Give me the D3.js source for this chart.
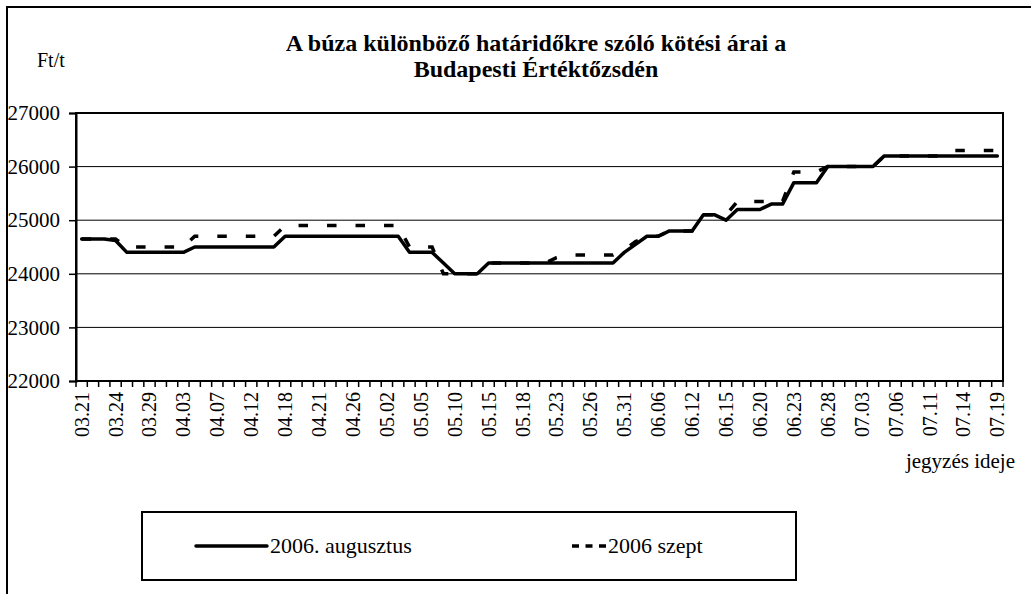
<!doctype html>
<html>
<head>
    <meta charset="utf8">
    <script src="https://d3js.org/d3.v7.min.js"></script>
    <style>
        body { margin: 0; background: #fff; }
        .grid { stroke: #000; stroke-width: 1; }
    </style>
</head>
<body>
<svg width="1031" height="594"></svg>
<script>

    // jegyzés napjai (82 kereskedési nap)
    var dates = ["03.21","03.22","03.23","03.24","03.27","03.28","03.29","03.30","03.31","04.03",
                 "04.05","04.06","04.07","04.10","04.11","04.12","04.13","04.14","04.18","04.19",
                 "04.20","04.21","04.24","04.25","04.26","04.27","04.28","05.02","05.03","05.04",
                 "05.05","05.08","05.09","05.10","05.11","05.12","05.15","05.16","05.17","05.18",
                 "05.19","05.22","05.23","05.24","05.25","05.26","05.29","05.30","05.31","06.01",
                 "06.02","06.06","06.07","06.09","06.12","06.13","06.14","06.15","06.16","06.19",
                 "06.20","06.21","06.22","06.23","06.26","06.27","06.28","06.29","06.30","07.03",
                 "07.04","07.05","07.06","07.07","07.10","07.11","07.12","07.13","07.14","07.17",
                 "07.18","07.19"];

    var tickLabels = ["03.21","03.24","03.29","04.03","04.07","04.12","04.18","04.21","04.26","05.02",
                      "05.05","05.10","05.15","05.18","05.23","05.26","05.31","06.06","06.12","06.15",
                      "06.20","06.23","06.28","07.03","07.06","07.11","07.14","07.19"];

    var yTicks = [22000, 23000, 24000, 25000, 26000, 27000];

    var augusztus = [24650,24650,24650,24620,24400,24400,24400,24400,24400,24400,
                     24500,24500,24500,24500,24500,24500,24500,24500,24700,24700,
                     24700,24700,24700,24700,24700,24700,24700,24700,24700,24400,
                     24400,24400,24200,24000,24000,24000,24200,24200,24200,24200,
                     24200,24200,24200,24200,24200,24200,24200,24200,24400,24550,
                     24700,24700,24800,24800,24800,25100,25100,25000,25200,25200,
                     25200,25300,25300,25700,25700,25700,26000,26000,26000,26000,
                     26000,26200,26200,26200,26200,26200,26200,26200,26200,26200,
                     26200,26200];

    var szept = [24650,24650,24650,24650,24500,24500,24500,24500,24500,24500,
                 24700,24700,24700,24700,24700,24700,24700,24700,24900,24900,
                 24900,24900,24900,24900,24900,24900,24900,24900,24900,24500,
                 24500,24500,24000,24000,24000,24000,24200,24200,24200,24200,
                 24200,24200,24300,24350,24350,24350,24350,24350,24450,24600,
                 24700,24700,24800,24800,24800,25100,25100,25100,25350,25350,
                 25350,25350,25350,25900,25900,25900,26000,26000,26000,26000,
                 26000,26200,26200,26200,26200,26200,26200,26300,26300,26300,
                 26300,26300];

    var seriesNames = ["2006. augusztus", "2006 szept"];

    // elérhető talpas betűtípus keresése
    function pickFont(list) {
        var c = document.createElement("canvas").getContext("2d");
        var probe = "mmmmmmmmmmlliiWW 0123456789 abcdefghij";
        c.font = "40px monospace";
        var b1 = c.measureText(probe).width;
        c.font = "40px sans-serif";
        var b2 = c.measureText(probe).width;
        for (var i = 0; i < list.length; i++) {
            c.font = "40px '" + list[i] + "', monospace";
            var w1 = c.measureText(probe).width;
            c.font = "40px '" + list[i] + "', sans-serif";
            var w2 = c.measureText(probe).width;
            if (w1 !== b1 && w2 !== b2) return list[i];
        }
        return "serif";
    }
    var serif = "'" + pickFont(["Liberation Serif", "Times New Roman", "Tinos", "DejaVu Serif",
                               "Noto Serif", "FreeSerif", "Nimbus Roman"]) + "', serif";

    var svg = d3.select("svg").attr("font-family", serif);

    var pLeft = 76, pRight = 1003, pTop = 113, pBottom = 381;

    var x = d3.scaleBand().domain(dates).range([pLeft, pRight]).padding(0);
    var y = d3.scaleLinear().domain([22000, 27000]).range([pBottom, pTop]);
    var cx = function(i) { return x(dates[i]) + x.bandwidth() / 2; };

    // külső keret
    svg.append("path")
       .attr("d", "M7,600 L7,7 L1040,7")
       .attr("fill", "none")
       .attr("stroke", "#000")
       .attr("stroke-width", 2);

    // cím
    svg.append("text")
       .attr("x", 536).attr("y", 51)
       .attr("text-anchor", "middle")
       .attr("font-size", "24px").attr("font-weight", "bold")
       .text("A búza különböző határidőkre szóló kötési árai a");
    svg.append("text")
       .attr("x", 536).attr("y", 77)
       .attr("text-anchor", "middle")
       .attr("font-size", "24px").attr("font-weight", "bold")
       .text("Budapesti Értéktőzsdén");

    svg.append("text")
       .attr("x", 37).attr("y", 67)
       .attr("font-size", "20px")
       .text("Ft/t");

    // rácsvonalak
    svg.append("g").selectAll("line")
       .data(yTicks.slice(1, -1))
       .enter().append("line")
       .attr("class", "grid")
       .attr("x1", pLeft).attr("x2", pRight)
       .attr("y1", function(d) { return y(d); })
       .attr("y2", function(d) { return y(d); });

    // rajzterület keret
    svg.append("rect")
       .attr("x", pLeft).attr("y", pTop)
       .attr("width", pRight - pLeft).attr("height", pBottom - pTop)
       .attr("fill", "none")
       .attr("stroke", "#000")
       .attr("stroke-width", 2);

    // y tengely
    var yAxis = svg.append("g")
       .attr("transform", "translate(" + pLeft + ",0)")
       .call(d3.axisLeft(y).tickValues(yTicks).tickSize(7).tickPadding(9)
             .tickFormat(function(d) { return d; }));
    yAxis.attr("font-family", serif).attr("font-size", "21px");
    yAxis.select(".domain").attr("stroke-width", 2);
    yAxis.selectAll(".tick line").attr("stroke-width", 1.5);

    // x tengely
    svg.append("line")
       .attr("x1", pLeft).attr("x2", pRight)
       .attr("y1", pBottom).attr("y2", pBottom)
       .attr("stroke", "#000").attr("stroke-width", 2);

    svg.append("g").selectAll("line")
       .data(dates.concat(["end"]))
       .enter().append("line")
       .attr("x1", function(d, i) { return pLeft + i * x.bandwidth(); })
       .attr("x2", function(d, i) { return pLeft + i * x.bandwidth(); })
       .attr("y1", pBottom).attr("y2", pBottom + 6)
       .attr("stroke", "#000").attr("stroke-width", 1.5);

    svg.append("g").selectAll("text")
       .data(tickLabels)
       .enter().append("text")
       .attr("transform", function(d) {
           return "translate(" + (x(d) + x.bandwidth() / 2) + "," + (pBottom + 11) + ") rotate(-90)";
       })
       .attr("text-anchor", "end")
       .attr("dy", "0.35em")
       .attr("font-size", "20px")
       .text(function(d) { return d; });

    svg.append("text")
       .attr("x", 1015).attr("y", 468)
       .attr("text-anchor", "end")
       .attr("font-size", "21px")
       .text("jegyzés ideje");

    // vonalak
    var line = d3.line()
        .x(function(d, i) { return cx(i); })
        .y(function(d) { return y(d); });

    svg.append("path")
       .datum(augusztus)
       .attr("d", line)
       .attr("fill", "none")
       .attr("stroke", "#000")
       .attr("stroke-width", 3.5)
       .attr("stroke-linejoin", "round")
       .attr("stroke-linecap", "round");

    svg.append("path")
       .datum(szept)
       .attr("d", line)
       .attr("fill", "none")
       .attr("stroke", "#000")
       .attr("stroke-width", 3.5)
       .attr("stroke-dasharray", "9.5,19");

    // jelmagyarázat
    var lg = svg.append("g");
    lg.append("rect")
      .attr("x", 142).attr("y", 512)
      .attr("width", 654).attr("height", 68)
      .attr("fill", "#fff")
      .attr("stroke", "#000")
      .attr("stroke-width", 2);

    lg.append("line")
      .attr("x1", 196).attr("x2", 267)
      .attr("y1", 546).attr("y2", 546)
      .attr("stroke", "#000").attr("stroke-width", 3.5)
      .attr("stroke-linecap", "round");
    lg.append("text")
      .attr("x", 270).attr("y", 553)
      .attr("font-size", "22px")
      .text(seriesNames[0]);

    lg.append("line")
      .attr("x1", 572).attr("x2", 606)
      .attr("y1", 546).attr("y2", 546)
      .attr("stroke", "#000").attr("stroke-width", 3.5)
      .attr("stroke-dasharray", "7,6.5");
    lg.append("text")
      .attr("x", 608).attr("y", 553)
      .attr("font-size", "22px")
      .text(seriesNames[1]);

</script>
</body>
</html>
